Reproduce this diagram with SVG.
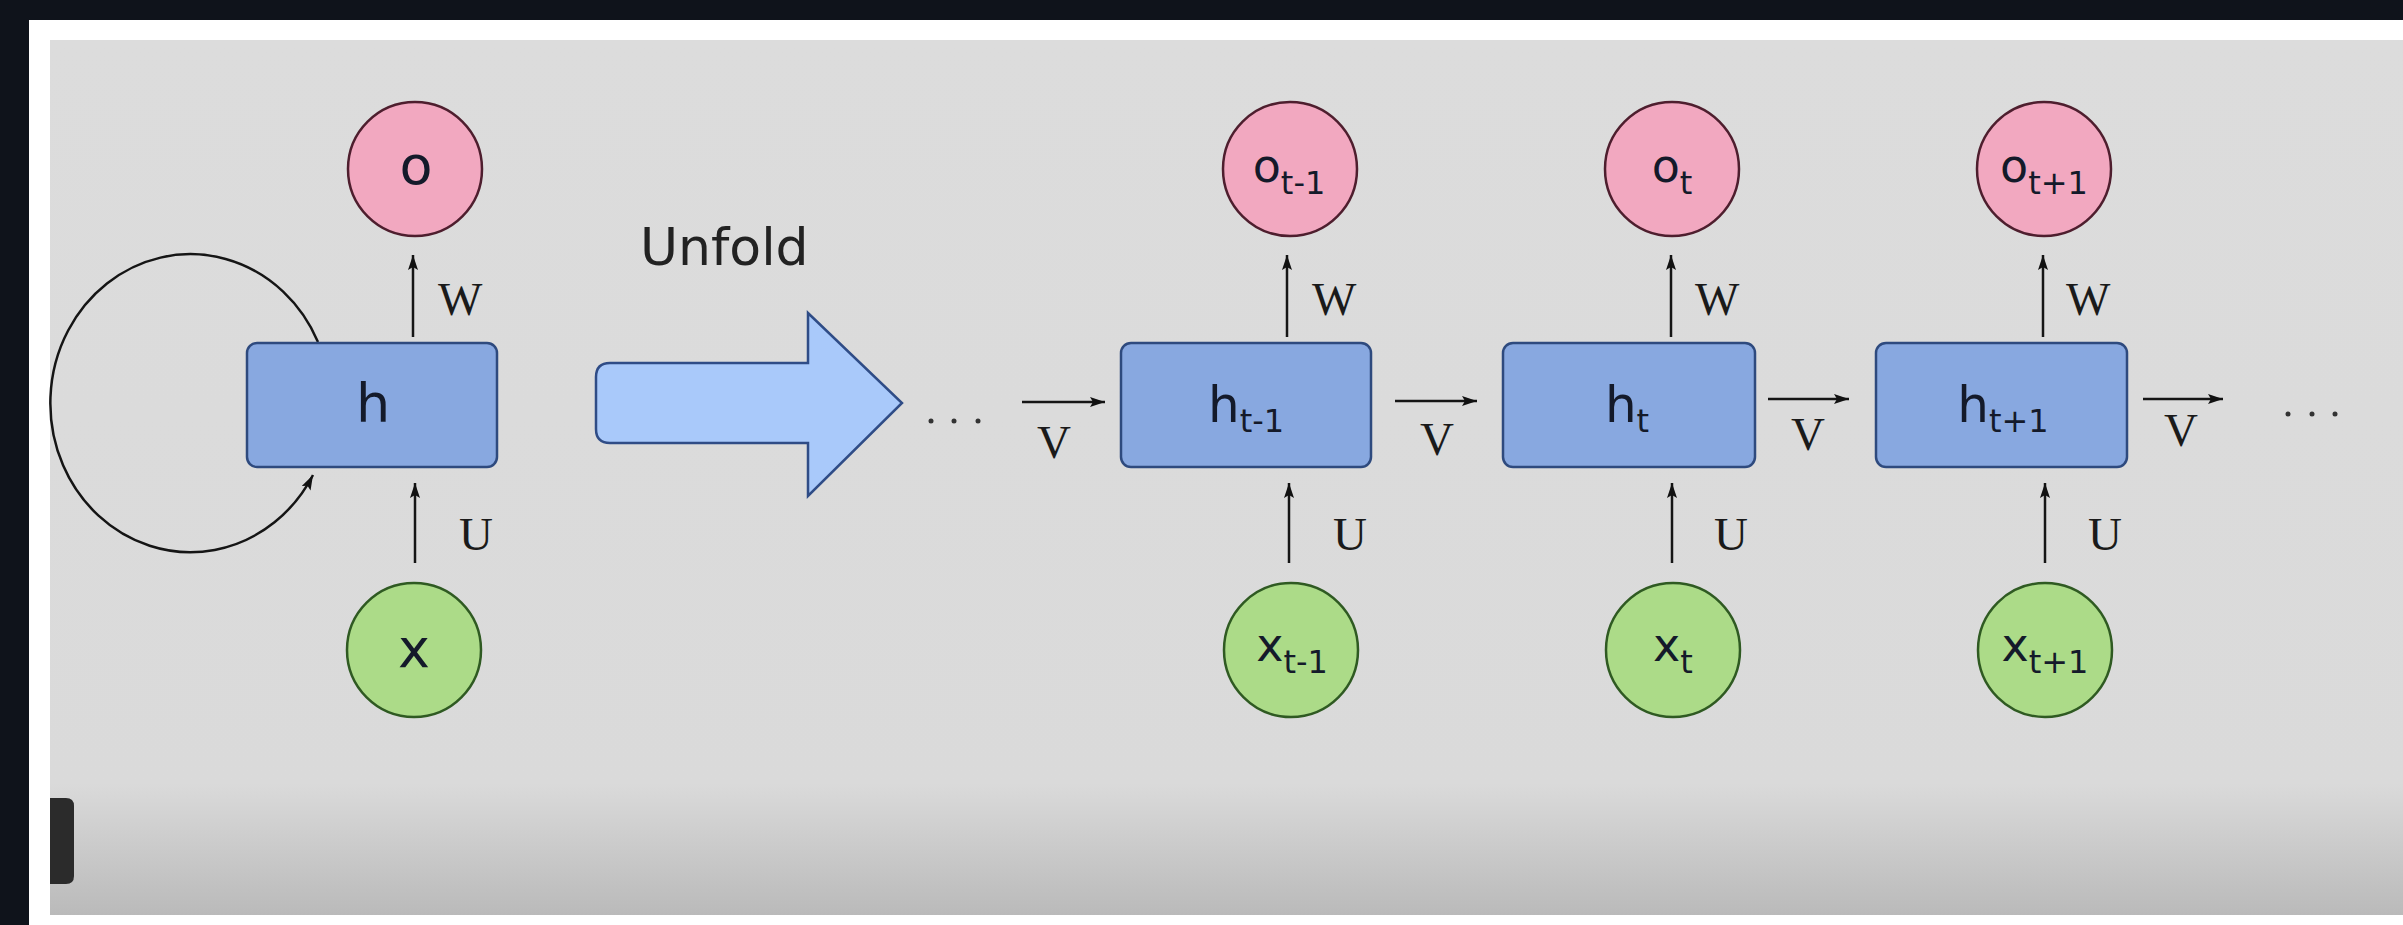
<svg xmlns="http://www.w3.org/2000/svg" width="2403" height="925" viewBox="0 0 2403 925">
<style>
.lbl{font-family:"DejaVu Sans","Liberation Sans",sans-serif;fill:#141a2a;text-anchor:middle}
.w{font-family:"Liberation Serif","DejaVu Serif",serif;font-size:47px;fill:#1a1a1a}
.vl{font-family:"Liberation Serif","DejaVu Serif",serif;font-size:47px;fill:#1a1a1a;text-anchor:middle}
.sub{font-size:32px}
.oc{fill:#f2a8c0;stroke:#4e1e2e;stroke-width:2.5}
.xc{fill:#acdb88;stroke:#2f5a22;stroke-width:2.5}
.hr{fill:#88a8e0;stroke:#2e4a7e;stroke-width:2.5}
.con{stroke:#151515;stroke-width:2.5;fill:none}
.dot{fill:#333}
</style>
<defs>
<linearGradient id="pg" x1="0" y1="40" x2="0" y2="915" gradientUnits="userSpaceOnUse">
<stop offset="0" stop-color="#dcdcdc"/>
<stop offset="0.85" stop-color="#dadada"/>
<stop offset="1" stop-color="#bababa"/>
</linearGradient>
<marker id="ah" viewBox="0 0 15 10" refX="15" refY="5" markerWidth="15" markerHeight="10" markerUnits="userSpaceOnUse" orient="auto">
<path d="M0,0 L15,5 L0,10 L3,5 z" fill="#111"/>
</marker>
</defs>
<!-- frame -->
<rect x="0" y="0" width="2403" height="925" fill="#ffffff"/>
<rect x="0" y="0" width="2403" height="20" fill="#0f131b"/>
<rect x="0" y="0" width="29" height="925" fill="#0f131b"/>
<rect x="50" y="40" width="2353" height="875" fill="url(#pg)"/>
<path d="M50,798 L66,798 Q74,798 74,806 L74,876 Q74,884 66,884 L50,884 Z" fill="#2b2b2b"/>

<g id="connectors">
<path class="con" d="M 318 342 A 140 149 0 1 0 313 475" marker-end="url(#ah)"/>
<line class="con" x1="413" y1="337" x2="413" y2="255" marker-end="url(#ah)"/>
<line class="con" x1="415" y1="563" x2="415" y2="483" marker-end="url(#ah)"/>
<line class="con" x1="1287" y1="337" x2="1287" y2="255" marker-end="url(#ah)"/>
<line class="con" x1="1289" y1="563" x2="1289" y2="483" marker-end="url(#ah)"/>
<line class="con" x1="1671" y1="337" x2="1671" y2="255" marker-end="url(#ah)"/>
<line class="con" x1="1672" y1="563" x2="1672" y2="483" marker-end="url(#ah)"/>
<line class="con" x1="2043" y1="337" x2="2043" y2="255" marker-end="url(#ah)"/>
<line class="con" x1="2045" y1="563" x2="2045" y2="483" marker-end="url(#ah)"/>
<line class="con" x1="1022" y1="402" x2="1105" y2="402" marker-end="url(#ah)"/>
<line class="con" x1="1395" y1="401" x2="1477" y2="401" marker-end="url(#ah)"/>
<line class="con" x1="1768" y1="399" x2="1849" y2="399" marker-end="url(#ah)"/>
<line class="con" x1="2143" y1="399" x2="2223" y2="399" marker-end="url(#ah)"/>
<text class="w" x="438" y="315">W</text>
<text class="w" x="459" y="550">U</text>
<text class="w" x="1312" y="315">W</text>
<text class="w" x="1333" y="550">U</text>
<text class="w" x="1695" y="315">W</text>
<text class="w" x="1714" y="550">U</text>
<text class="w" x="2066" y="315">W</text>
<text class="w" x="2088" y="550">U</text>
<text class="vl" x="1054" y="458">V</text>
<text class="vl" x="1437" y="455">V</text>
<text class="vl" x="1808" y="450">V</text>
<text class="vl" x="2181" y="446">V</text>
</g>

<g id="node-o"><circle class="oc" cx="415" cy="169" r="67"/><text class="lbl" x="416" y="184" font-size="54">o</text></g>
<g id="node-h"><rect class="hr" x="247" y="343" width="250" height="124" rx="10"/><text class="lbl" x="373" y="422" font-size="54">h</text></g>
<g id="node-x"><circle class="xc" cx="414" cy="650" r="67"/><text class="lbl" x="414" y="667" font-size="54">x</text></g>

<g id="unfold">
<text x="640" y="265" font-family="DejaVu Sans, sans-serif" font-size="52" fill="#222">Unfold</text>
<path d="M610,363 L808,363 L808,313 L902,403 L808,496 L808,443 L610,443 Q596,443 596,429 L596,377 Q596,363 610,363 Z" fill="#a9c9fa" stroke="#2f4c86" stroke-width="2.5"/>
</g>

<g id="dots-left"><circle class="dot" cx="931" cy="421" r="2.5"/><circle class="dot" cx="954" cy="421" r="2.5"/><circle class="dot" cx="978" cy="421" r="2.5"/></g>
<g id="dots-right"><circle class="dot" cx="2288" cy="414" r="2.5"/><circle class="dot" cx="2312" cy="414" r="2.5"/><circle class="dot" cx="2335" cy="414" r="2.5"/></g>

<g id="node-o-t-1"><circle class="oc" cx="1290" cy="169" r="67"/><text class="lbl" x="1289" y="182" font-size="46">o<tspan class="sub" dy="12">t-1</tspan></text></g>
<g id="node-h-t-1"><rect class="hr" x="1121" y="343" width="250" height="124" rx="10"/><text class="lbl" x="1246" y="422" font-size="50">h<tspan class="sub" dy="10">t-1</tspan></text></g>
<g id="node-x-t-1"><circle class="xc" cx="1291" cy="650" r="67"/><text class="lbl" x="1292" y="661" font-size="46">x<tspan class="sub" dy="12">t-1</tspan></text></g>

<g id="node-o-t"><circle class="oc" cx="1672" cy="169" r="67"/><text class="lbl" x="1672" y="182" font-size="46">o<tspan class="sub" dy="12">t</tspan></text></g>
<g id="node-h-t"><rect class="hr" x="1503" y="343" width="252" height="124" rx="10"/><text class="lbl" x="1627" y="422" font-size="50">h<tspan class="sub" dy="10">t</tspan></text></g>
<g id="node-x-t"><circle class="xc" cx="1673" cy="650" r="67"/><text class="lbl" x="1673" y="661" font-size="46">x<tspan class="sub" dy="12">t</tspan></text></g>

<g id="node-o-t1"><circle class="oc" cx="2044" cy="169" r="67"/><text class="lbl" x="2044" y="182" font-size="46">o<tspan class="sub" dy="12">t+1</tspan></text></g>
<g id="node-h-t1"><rect class="hr" x="1876" y="343" width="251" height="124" rx="10"/><text class="lbl" x="2003" y="422" font-size="50">h<tspan class="sub" dy="10">t+1</tspan></text></g>
<g id="node-x-t1"><circle class="xc" cx="2045" cy="650" r="67"/><text class="lbl" x="2045" y="661" font-size="46">x<tspan class="sub" dy="12">t+1</tspan></text></g>
</svg>
